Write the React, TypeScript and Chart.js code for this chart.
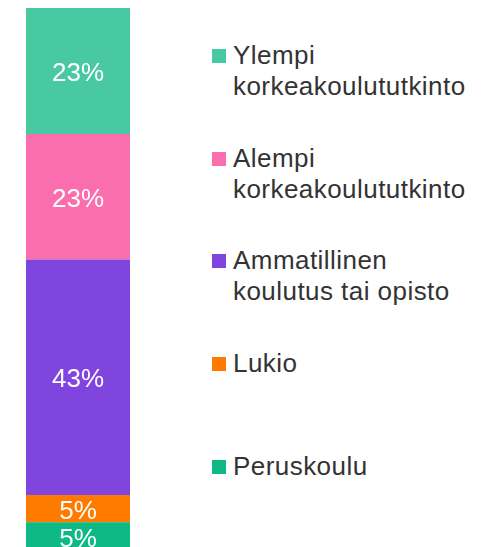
import React, { useEffect, useRef } from "react";
import { Chart, registerables } from "chart.js";

Chart.register(...registerables);

// Data (bottom to top of the stacked bar)
const categories = ["Peruskoulu", "Lukio", "Ammatillinen koulutus tai opisto", "Alempi korkeakoulututkinto", "Ylempi korkeakoulututkinto"];
const values = [5.3, 5.0, 43.4, 23.1, 23.2];
const colors = ["#0fb985", "#ff7b00", "#7f45de", "#fa6ead", "#49c9a1"];
// Legend (top to bottom), with line breaks as shown
const legendLines = [
  ["Ylempi", "korkeakoulututkinto"],
  ["Alempi", "korkeakoulututkinto"],
  ["Ammatillinen", "koulutus tai opisto"],
  ["Lukio"],
  ["Peruskoulu"],
];
const legendColors = ["#49c9a1", "#fa6ead", "#7f45de", "#ff7b00", "#0fb985"];

const FONT = "'Liberation Sans', Arial, sans-serif";

const segmentLabels = {
  id: "segmentLabels",
  afterDatasetsDraw(chart: any) {
    const ctx = chart.ctx;
    ctx.save();
    ctx.font = `26px ${FONT}`;
    ctx.fillStyle = "#ffffff";
    ctx.textAlign = "center";
    ctx.textBaseline = "middle";
    chart.data.datasets.forEach((ds: any, i: number) => {
      const meta = chart.getDatasetMeta(i);
      meta.data.forEach((el: any, j: number) => {
        const v = ds.data[j];
        const cy = (el.y + el.base) / 2;
        ctx.fillText(`${Math.round(v)}%`, el.x, cy + 3);
      });
    });
    ctx.restore();
  },
};

export default function App() {
  const ref = useRef<HTMLCanvasElement>(null);
  useEffect(() => {
    document.documentElement.style.overflow = "hidden";
    const total = values.reduce((a, b) => a + b, 0);
    const chart = new Chart(ref.current!, {
      type: "bar",
      data: {
        labels: [""],
        datasets: categories.map((c, i) => ({
          label: c,
          data: [values[i]],
          backgroundColor: colors[i],
          borderWidth: 0,
          categoryPercentage: 1,
          barPercentage: 0.743,
        })),
      },
      options: {
        animation: false,
        responsive: true,
        maintainAspectRatio: false,
        layout: { padding: 0 },
        plugins: { legend: { display: false }, tooltip: { enabled: false } },
        scales: {
          x: { stacked: true, display: false },
          y: { stacked: true, display: false, min: 0, max: total },
        },
      },
      plugins: [segmentLabels],
    });
    return () => chart.destroy();
  }, []);

  const tops = [32, 135, 237, 340, 443];
  return (
    <div style={{ position: "relative", width: 472, height: 539, overflow: "hidden" }}>
      <div style={{ position: "absolute", left: 0, top: 0, width: 140, height: 543 }}>
        <canvas ref={ref} />
      </div>
      {legendLines.map((lines, i) => (
        <div key={i} style={{ position: "absolute", left: 204, top: tops[i], display: "flex", alignItems: "flex-start" }}>
          <div style={{ width: 14, height: 14, marginTop: 9, background: legendColors[i], flex: "none" }} />
          <div style={{ marginLeft: 7, font: `26px ${FONT}`, lineHeight: "31px", color: "#333333", letterSpacing: "0.45px", whiteSpace: "nowrap" }}>
            {lines.map((l, k) => (
              <div key={k}>{l}</div>
            ))}
          </div>
        </div>
      ))}
    </div>
  );
}
